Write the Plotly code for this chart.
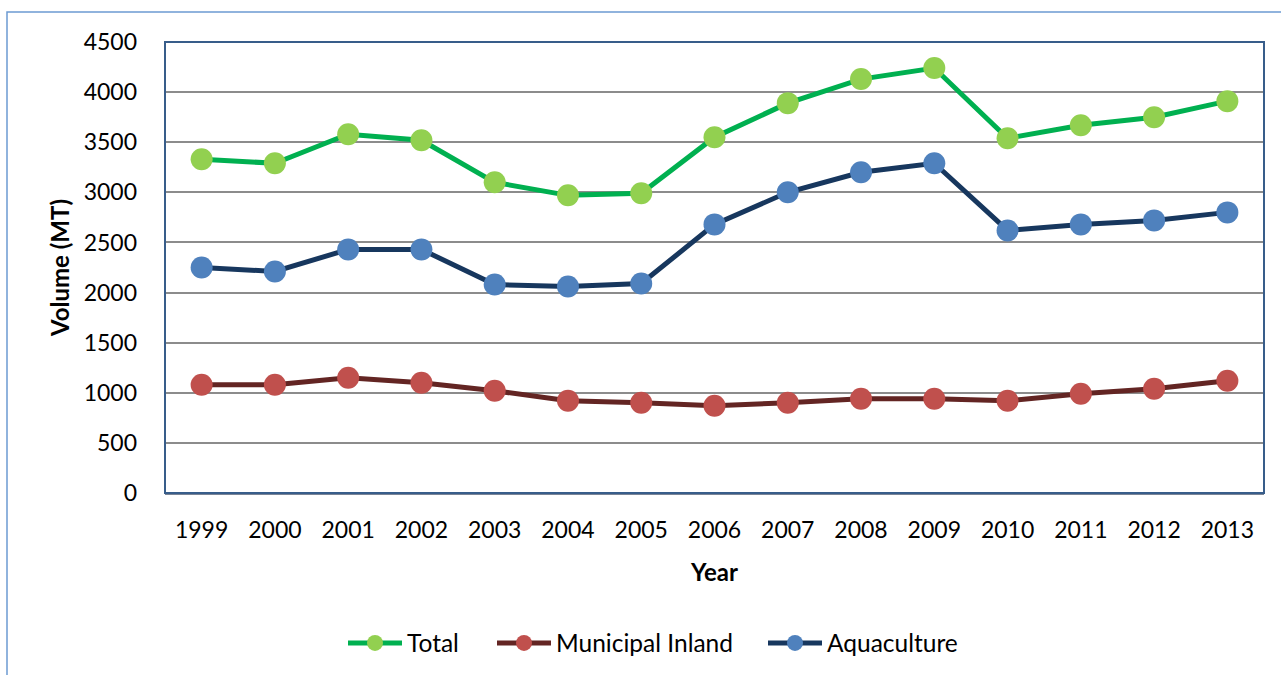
import plotly.graph_objects as go

years = ["1999", "2000", "2001", "2002", "2003", "2004", "2005", "2006",
         "2007", "2008", "2009", "2010", "2011", "2012", "2013"]
total = [3330, 3290, 3580, 3520, 3100, 2970, 2990, 3550, 3890, 4130, 4240, 3540, 3670, 3750, 3910]
municipal_inland = [1080, 1080, 1150, 1100, 1020, 920, 900, 870, 900, 940, 940, 920, 990, 1040, 1120]
aquaculture = [2250, 2210, 2430, 2430, 2080, 2060, 2090, 2680, 3000, 3200, 3290, 2620, 2680, 2720, 2800]
y_ticks = [0, 500, 1000, 1500, 2000, 2500, 3000, 3500, 4000, 4500]

FONT = "Lato"
PL, PR, PT, PB = 165, 1264, 42, 493  # plot area edges in pixels

fig = go.Figure()
series = [
    ("Total", total, "#00B050", "#92D050", "legend", 343),
    ("Municipal Inland", municipal_inland, "#632523", "#C0504D", "legend2", 492),
    ("Aquaculture", aquaculture, "#17375E", "#4F81BD", "legend3", 763),
]
legend_cfg = {}
for name, vals, lc, mc, lg, lx in series:
    fig.add_trace(go.Scatter(
        x=years, y=vals, name=name, mode="lines+markers",
        line=dict(color=lc, width=5),
        marker=dict(color=mc, size=22, line=dict(width=0)),
        legend=lg,
    ))
    legend_cfg[lg] = dict(
        x=(lx - PL) / (PR - PL), xanchor="left", xref="paper",
        y=1 - 643 / 675, yanchor="middle", yref="container",
        font=dict(family=FONT, size=24.5, color="black"),
        bgcolor="rgba(0,0,0,0)", itemwidth=54,
    )

fig.update_layout(
    width=1281, height=675,
    margin=dict(l=PL, r=1281 - PR, t=PT, b=675 - PB, autoexpand=False),
    paper_bgcolor="white", plot_bgcolor="white",
    font=dict(family=FONT, size=23, color="black"),
    showlegend=True,
    shapes=[
        dict(type="rect", xref="paper", yref="paper",
             x0=(7 - PL) / (PR - PL), x1=(1300 - PL) / (PR - PL),
             y0=(PB - 700) / (PB - PT), y1=(PB - 12) / (PB - PT),
             line=dict(color="#6C9BD2", width=1.5), layer="below"),
        dict(type="rect", xref="paper", yref="paper", x0=0, x1=1, y0=0, y1=1,
             line=dict(color="#385D8A", width=2), layer="above"),
    ],
    **legend_cfg,
)
fig.update_xaxes(
    type="category", range=[-0.5, len(years) - 0.5],
    showgrid=False, showline=True, linecolor="#7A8597", linewidth=2,
    ticks="", ticklabelstandoff=15, tickfont=dict(size=23),
    title=dict(text="<b>Year</b>", font=dict(size=24), standoff=23),
)
fig.update_yaxes(
    range=[0, 4500], tickvals=y_ticks, ticktext=[str(v) for v in y_ticks],
    showgrid=True, gridcolor="#8C8C8C", gridwidth=2, zeroline=False,
    showline=False, ticks="", ticklabelstandoff=27, tickfont=dict(size=23),
    title=dict(text="<b>Volume (MT)</b>", font=dict(size=24), standoff=7),
)

fig.write_html("out.html", config={"displayModeBar": False},
               post_script="document.body.style.margin='0px';")
